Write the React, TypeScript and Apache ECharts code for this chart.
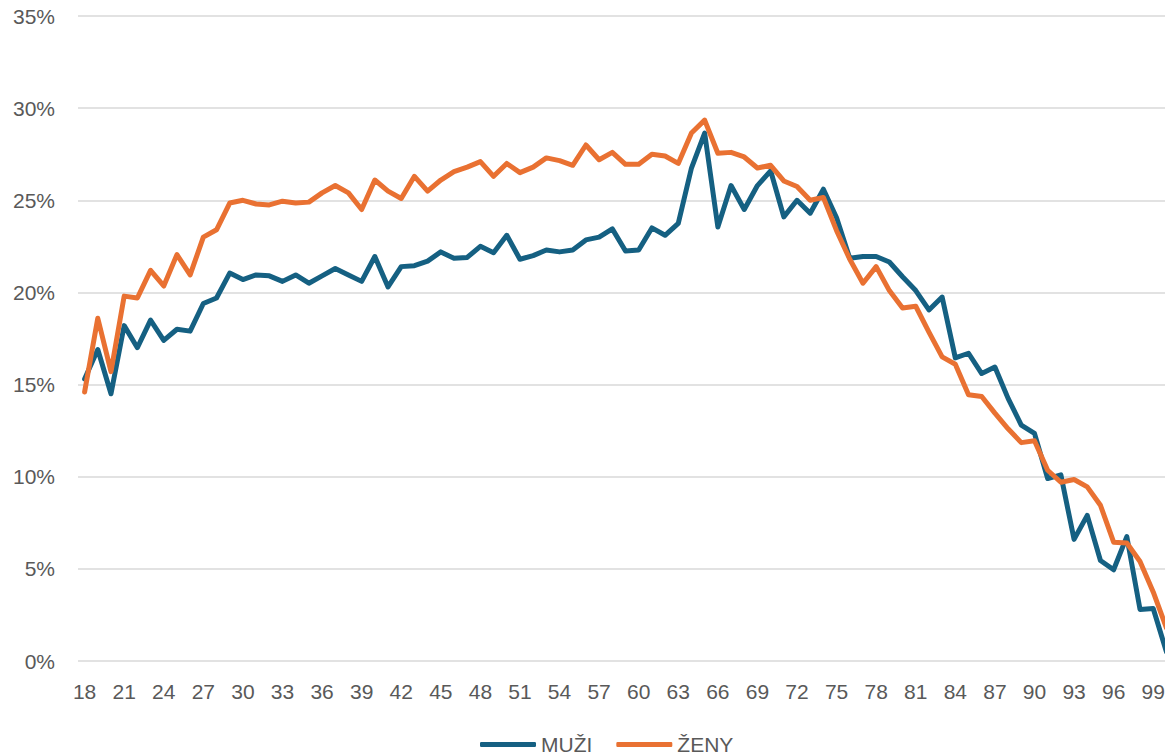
import React, { useEffect, useRef } from "react";
import * as echarts from "echarts";

const ages: string[] = [];
for (let a = 18; a <= 100; a++) ages.push(String(a));

const muzi = [
  15.3, 16.9, 14.5, 18.2, 17.0, 18.5, 17.4, 18.0, 17.9, 19.4,
  19.7, 21.05, 20.7, 20.95, 20.9, 20.6, 20.95, 20.5, 20.9, 21.3,
  20.95, 20.6, 21.95, 20.3, 21.4, 21.45, 21.7, 22.2, 21.85, 21.9,
  22.5, 22.15, 23.1, 21.8, 22.0, 22.3, 22.2, 22.3, 22.85, 23.0,
  23.45, 22.25, 22.3, 23.5, 23.1, 23.75, 26.75, 28.65, 23.55, 25.8,
  24.5, 25.8, 26.6, 24.1, 25.0, 24.3, 25.6, 24.05, 21.85, 21.95,
  21.95, 21.65, 20.85, 20.1, 19.05, 19.75, 16.45, 16.7, 15.6, 15.95,
  14.25, 12.8, 12.35, 9.9, 10.1, 6.6, 7.9, 5.45, 4.95, 6.75,
  2.8, 2.85, 0.5,
];

const zeny = [
  14.6, 18.6, 15.7, 19.8, 19.7, 21.2, 20.35, 22.05, 20.95, 23.0,
  23.4, 24.85, 25.0, 24.8, 24.75, 24.95, 24.85, 24.9, 25.4, 25.8,
  25.4, 24.5, 26.1, 25.5, 25.1, 26.3, 25.5, 26.1, 26.55, 26.8,
  27.1, 26.3, 27.0, 26.5, 26.8, 27.3, 27.15, 26.9, 28.0, 27.2,
  27.6, 26.95, 26.95, 27.5, 27.4, 27.0, 28.65, 29.35, 27.55, 27.6,
  27.35, 26.75, 26.9, 26.05, 25.75, 25.0, 25.15, 23.35, 21.8, 20.5,
  21.4, 20.1, 19.15, 19.25, 17.85, 16.5, 16.1, 14.45, 14.35, 13.45,
  12.6, 11.85, 11.95, 10.35, 9.7, 9.85, 9.45, 8.45, 6.45, 6.4,
  5.4, 3.75, 1.8,
];

const FONT = "'Liberation Sans', Arial, sans-serif";
const TEXT = "#595959";

export default function App() {
  const ref = useRef<HTMLDivElement>(null);
  useEffect(() => {
    if (!ref.current) return;
    const chart = echarts.init(ref.current, undefined, { renderer: "svg" });
    chart.setOption({
      animation: false,
      textStyle: { fontFamily: FONT },
      grid: { left: 78, right: 0, top: 16, bottom: 94, containLabel: false },
      legend: {
        left: 480,
        top: 734,
        padding: 0,
        itemWidth: 56,
        itemHeight: 5,
        itemGap: 24,
        itemTextGap: 4,
        itemStyle: { borderWidth: 0 },
        icon: "roundRect",
        textStyle: { color: TEXT, fontSize: 21, lineHeight: 20, fontFamily: FONT },
        data: ["MUŽI", "ŽENY"],
      },
      xAxis: {
        type: "category",
        data: ages,
        boundaryGap: true,
        axisLine: { show: false },
        axisTick: { show: false },
        axisLabel: {
          interval: 2,
          color: TEXT,
          fontSize: 21,
          fontFamily: FONT,
          margin: 20,
        },
      },
      yAxis: {
        type: "value",
        min: 0,
        max: 35,
        interval: 5,
        axisLine: { show: false },
        axisTick: { show: false },
        splitLine: { lineStyle: { color: "#d9d9d9", width: 1.5 } },
        axisLabel: {
          formatter: "{value}%",
          color: TEXT,
          fontSize: 21,
          fontFamily: FONT,
          margin: 23,
        },
      },
      series: [
        {
          name: "MUŽI",
          type: "line",
          data: muzi,
          showSymbol: false,
          symbol: "none",
          color: "#156082",
          lineStyle: { width: 5, color: "#156082", cap: "round", join: "round" },
        },
        {
          name: "ŽENY",
          type: "line",
          data: zeny,
          showSymbol: false,
          symbol: "none",
          color: "#E97132",
          lineStyle: { width: 5, color: "#E97132", cap: "round", join: "round" },
        },
      ],
    });
    return () => chart.dispose();
  }, []);
  return (
    <div
      style={{
        position: "absolute",
        left: 0,
        top: 0,
        width: 1165,
        height: 755,
        overflow: "hidden",
        background: "#fff",
      }}
    >
      <div ref={ref} style={{ width: 1173, height: 755 }} />
    </div>
  );
}
